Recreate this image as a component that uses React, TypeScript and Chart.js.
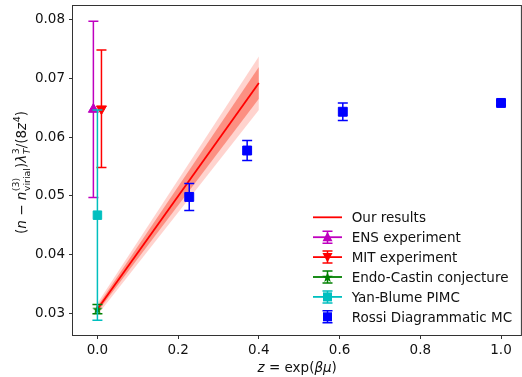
import React, { useEffect, useRef } from 'react';
import { Chart, registerables } from 'chart.js';
Chart.register(...registerables);

// ---------- data ----------
const X_TICKS = [0, 0.2, 0.4, 0.6, 0.8, 1.0];
const Y_TICKS = [0.03, 0.04, 0.05, 0.06, 0.07, 0.08];

const LEGEND_LABELS = [
  'Our results',
  'ENS experiment',
  'MIT experiment',
  'Endo-Castin conjecture',
  'Yan-Blume PIMC',
  'Rossi Diagrammatic MC',
];

// Our results (line + 1σ / 2σ bands)
const LINE_Z = [0, 0.4];
const LINE_Y = [0.0307, 0.0692];
const BAND1_LO = [0.0302, 0.0665];
const BAND1_HI = [0.0312, 0.0719];
const BAND2_LO = [0.0297, 0.0646];
const BAND2_HI = [0.0317, 0.0737];

const ENS_Z = [-0.01];
const ENS_Y = [0.0647];
const ENS_ERR = [0.015];

const MIT_Z = [0.01];
const MIT_Y = [0.0648];
const MIT_ERR = [0.01];

const EC_Z = [0];
const EC_Y = [0.0307];
const EC_ERR = [0.0008];

const YB_Z = [0];
const YB_Y = [0.0467];
const YB_ERR = [0.0179];

const ROSSI_Z = [0.2275, 0.371, 0.608, 1.0];
const ROSSI_Y = [0.0498, 0.0577, 0.0643, 0.0658];
const ROSSI_ERR = [0.0023, 0.0017, 0.0015, 0.0004];

// ---------- helpers ----------
const FAMILY = '"DejaVu Sans", sans-serif';
const FS = 13.5;

const pts = (xs: number[], ys: number[]) => xs.map((x, i) => ({ x, y: ys[i] }));

function starPath(g: CanvasRenderingContext2D, cx: number, cy: number, r: number) {
  g.beginPath();
  for (let i = 0; i < 10; i++) {
    const a = -Math.PI / 2 + (i * Math.PI) / 5;
    const rr = i % 2 === 0 ? r : r * 0.42;
    const px = cx + rr * Math.cos(a);
    const py = cy + rr * Math.sin(a);
    if (i === 0) g.moveTo(px, py);
    else g.lineTo(px, py);
  }
  g.closePath();
}

function makeStar(color: string, r: number) {
  const c = document.createElement('canvas');
  const s = Math.ceil(r * 2 + 2);
  c.width = s;
  c.height = s;
  const g = c.getContext('2d')!;
  g.fillStyle = color;
  starPath(g, s / 2, s / 2 + 0.5, r);
  g.fill();
  return c;
}

type Part = { t: string; it?: boolean; sup?: string; sub?: string; subIt?: boolean };

const fnt = (size: number, it?: boolean) => `${it ? 'italic ' : ''}${size}px ${FAMILY}`;

function partsWidth(ctx: CanvasRenderingContext2D, parts: Part[], size: number) {
  let w = 0;
  for (const p of parts) {
    ctx.font = fnt(size, p.it);
    w += ctx.measureText(p.t).width;
    if (p.sup || p.sub) {
      ctx.font = fnt(size * 0.7, false);
      const sw = p.sup ? ctx.measureText(p.sup).width : 0;
      ctx.font = fnt(size * 0.7, p.subIt);
      const bw = p.sub ? ctx.measureText(p.sub).width : 0;
      w += Math.max(sw, bw) + 0.5;
    }
  }
  return w;
}

function drawParts(ctx: CanvasRenderingContext2D, parts: Part[], size: number, x0: number, y0: number) {
  let x = x0;
  ctx.textBaseline = 'alphabetic';
  ctx.textAlign = 'left';
  for (const p of parts) {
    ctx.font = fnt(size, p.it);
    ctx.fillText(p.t, x, y0);
    x += ctx.measureText(p.t).width;
    if (p.sup || p.sub) {
      const both = !!(p.sup && p.sub);
      let sw = 0;
      let bw = 0;
      if (p.sup) {
        ctx.font = fnt(size * 0.7, false);
        ctx.fillText(p.sup, x + 0.5, y0 - size * (both ? 0.47 : 0.42));
        sw = ctx.measureText(p.sup).width;
      }
      if (p.sub) {
        ctx.font = fnt(size * 0.7, p.subIt);
        ctx.fillText(p.sub, x + 0.5, y0 + size * (both ? 0.3 : 0.22));
        bw = ctx.measureText(p.sub).width;
      }
      x += Math.max(sw, bw) + 0.5;
    }
  }
}

const Y_TITLE: Part[] = [
  { t: '(' },
  { t: 'n', it: true },
  { t: ' \u2212 ' },
  { t: 'n', it: true, sup: '(3)', sub: 'virial' },
  { t: ')' },
  { t: 'λ', it: true, sup: '3', sub: 'T', subIt: true },
  { t: '/(8' },
  { t: 'z', it: true, sup: '4' },
  { t: ')' },
];

const X_TITLE: Part[] = [
  { t: 'z', it: true },
  { t: ' = exp(' },
  { t: 'βμ', it: true },
  { t: ')' },
];

function drawMarker(ctx: CanvasRenderingContext2D, kind: string, x: number, y: number, color: string) {
  ctx.fillStyle = color;
  ctx.beginPath();
  if (kind === 'triUp') {
    ctx.moveTo(x, y - 5.5);
    ctx.lineTo(x + 5, y + 4);
    ctx.lineTo(x - 5, y + 4);
    ctx.closePath();
    ctx.fill();
  } else if (kind === 'triDown') {
    ctx.moveTo(x, y + 5.5);
    ctx.lineTo(x + 5, y - 4);
    ctx.lineTo(x - 5, y - 4);
    ctx.closePath();
    ctx.fill();
  } else if (kind === 'square') {
    ctx.fillRect(x - 4.5, y - 4.5, 9, 9);
  } else if (kind === 'star') {
    starPath(ctx, x, y + 0.5, 5.5);
    ctx.fill();
  }
}

// ---------- plugins ----------
const errorBarPlugin = {
  id: 'errbars',
  beforeDatasetDraw(chart: any, args: any) {
    const ds = chart.data.datasets[args.index];
    if (!ds.errors) return;
    const { ctx } = chart;
    const xs = chart.scales.x;
    const ys = chart.scales.y;
    ctx.save();
    ctx.strokeStyle = ds.errColor;
    ctx.lineWidth = 1.5;
    ds.data.forEach((p: any, i: number) => {
      const e = ds.errors[i];
      const x = xs.getPixelForValue(p.x);
      const yt = ys.getPixelForValue(p.y + e);
      const yb = ys.getPixelForValue(p.y - e);
      ctx.beginPath();
      ctx.moveTo(x, yt);
      ctx.lineTo(x, yb);
      ctx.moveTo(x - 5, yt);
      ctx.lineTo(x + 5, yt);
      ctx.moveTo(x - 5, yb);
      ctx.lineTo(x + 5, yb);
      ctx.stroke();
    });
    ctx.restore();
  },
};

const decorPlugin = {
  id: 'decor',
  afterDraw(chart: any) {
    const { ctx, chartArea: a } = chart;
    ctx.save();
    // frame
    ctx.strokeStyle = '#333';
    ctx.lineWidth = 1;
    ctx.strokeRect(a.left - 0.5, a.top - 0.5, a.right - a.left + 0.5, a.bottom - a.top + 1);

    ctx.fillStyle = '#111';
    // x title
    const xw = partsWidth(ctx, X_TITLE, FS);
    drawParts(ctx, X_TITLE, FS, (a.left + a.right) / 2 - xw / 2, 372);
    // y title
    const yw = partsWidth(ctx, Y_TITLE, FS);
    ctx.save();
    ctx.translate(25.5, (a.top + a.bottom) / 2 + 2);
    ctx.rotate(-Math.PI / 2);
    ctx.fillStyle = '#111';
    drawParts(ctx, Y_TITLE, FS, -yw / 2, 0);
    ctx.restore();

    // legend
    const items = chart.data.datasets.filter((d: any) => d.legendIndex !== undefined);
    items.sort((p: any, q: any) => p.legendIndex - q.legendIndex);
    items.forEach((d: any) => {
      const y = 217.3 + d.legendIndex * 19.9;
      const cx = 327.5;
      const col = d.legendColor;
      if (d.legendLine) {
        ctx.strokeStyle = col;
        ctx.lineWidth = 1.8;
        ctx.beginPath();
        ctx.moveTo(313, y);
        ctx.lineTo(342, y);
        ctx.stroke();
      }
      if (d.errors) {
        ctx.strokeStyle = d.errColor;
        ctx.lineWidth = 1.5;
        ctx.beginPath();
        ctx.moveTo(cx, y - 6);
        ctx.lineTo(cx, y + 6);
        ctx.moveTo(cx - 5, y - 6);
        ctx.lineTo(cx + 5, y - 6);
        ctx.moveTo(cx - 5, y + 6);
        ctx.lineTo(cx + 5, y + 6);
        ctx.stroke();
      }
      if (d.legendMarker) drawMarker(ctx, d.legendMarker, cx, y, col);
      ctx.fillStyle = '#111';
      ctx.font = fnt(FS);
      ctx.textAlign = 'left';
      ctx.textBaseline = 'alphabetic';
      ctx.fillText(LEGEND_LABELS[d.legendIndex], 351.7, y + 5);
    });
    ctx.restore();
  },
};

// ---------- component ----------
export default function App() {
  const ref = useRef<HTMLCanvasElement>(null);

  useEffect(() => {
    const MAG = '#bf00bf';
    const RED = '#ff0000';
    const GRN = '#008000';
    const CYN = '#00bfbf';
    const BLU = '#0000ff';
    const star = makeStar(GRN, 5.5);

    const bandDs = (data: any[], fill: any, color: string, order: number) => ({
      data,
      showLine: true,
      borderWidth: 0,
      borderColor: 'rgba(0,0,0,0)',
      backgroundColor: color,
      pointRadius: 0,
      pointHoverRadius: 0,
      fill,
      order,
    });

    const ptDs = (data: any[], color: string, style: any, radius: number, errs: number[], order: number, li: number, marker: string, rot = 0) => ({
      data,
      showLine: false,
      pointStyle: style,
      pointRadius: radius,
      pointHoverRadius: radius,
      pointRotation: rot,
      pointBackgroundColor: color,
      pointBorderColor: color,
      pointBorderWidth: 1,
      borderColor: color,
      errors: errs,
      errColor: color,
      order,
      legendIndex: li,
      legendColor: color,
      legendLine: li !== 5,
      legendMarker: marker,
    });

    const chart = new Chart(ref.current!, {
      type: 'line',
      data: {
        datasets: [
          bandDs(pts(LINE_Z, BAND2_HI), '+1', 'rgba(255,80,60,0.25)', 20),
          bandDs(pts(LINE_Z, BAND2_LO), false, 'rgba(0,0,0,0)', 19),
          bandDs(pts(LINE_Z, BAND1_HI), '+1', 'rgba(250,90,70,0.55)', 18),
          bandDs(pts(LINE_Z, BAND1_LO), false, 'rgba(0,0,0,0)', 17),
          {
            data: pts(LINE_Z, LINE_Y),
            showLine: true,
            borderColor: RED,
            borderWidth: 1.8,
            pointRadius: 0,
            pointHoverRadius: 0,
            fill: false,
            order: 16,
            legendIndex: 0,
            legendColor: RED,
            legendLine: true,
          },
          ptDs(pts(ENS_Z, ENS_Y), MAG, 'triangle', 5.8, ENS_ERR, 6, 1, 'triUp'),
          ptDs(pts(MIT_Z, MIT_Y), RED, 'triangle', 5.8, MIT_ERR, 5, 2, 'triDown', 180),
          ptDs(pts(EC_Z, EC_Y), GRN, star, 5, EC_ERR, 4, 3, 'star'),
          ptDs(pts(YB_Z, YB_Y), CYN, 'rect', 6, YB_ERR, 3, 4, 'square'),
          ptDs(pts(ROSSI_Z, ROSSI_Y), BLU, 'rect', 6.3, ROSSI_ERR, 2, 5, 'square'),
        ] as any,
      },
      options: {
        animation: false,
        responsive: false,
        devicePixelRatio: 1,
        events: [],
        layout: { autoPadding: false, padding: { top: 6, right: 0.6, left: 0, bottom: 0 } },
        plugins: {
          legend: { display: false },
          tooltip: { enabled: false },
        },
        scales: {
          x: {
            type: 'linear',
            min: -0.0605,
            max: 1.0505,
            afterBuildTicks: (s: any) => {
              s.ticks = X_TICKS.map((v) => ({ value: v }));
            },
            afterFit: (s: any) => {
              s.height = 42;
              s.paddingLeft = 0;
              s.paddingRight = 0;
              s.paddingTop = 0;
              s.paddingBottom = 0;
            },
            ticks: {
              callback: (v: any) => Number(v).toFixed(1),
              font: { family: FAMILY, size: FS },
              color: '#111',
              padding: 3,
              maxRotation: 0,
              autoSkip: false,
            },
            grid: { drawOnChartArea: false, tickLength: 4, tickColor: '#333', tickWidth: 1 },
            border: { display: false },
          },
          y: {
            type: 'linear',
            min: 0.0263,
            max: 0.0823,
            afterBuildTicks: (s: any) => {
              s.ticks = Y_TICKS.map((v) => ({ value: v }));
            },
            afterFit: (s: any) => {
              s.width = 73;
              s.paddingLeft = 0;
              s.paddingRight = 0;
              s.paddingTop = 0;
              s.paddingBottom = 0;
            },
            ticks: {
              callback: (v: any) => Number(v).toFixed(2),
              font: { family: FAMILY, size: FS },
              color: '#111',
              padding: 4,
              autoSkip: false,
            },
            grid: { drawOnChartArea: false, tickLength: 4, tickColor: '#333', tickWidth: 1 },
            border: { display: false },
          },
        },
      } as any,
      plugins: [errorBarPlugin, decorPlugin],
    });
    return () => chart.destroy();
  }, []);

  return (
    <div style={{ position: 'fixed', left: 0, top: 0, width: 522, height: 377, background: '#fff' }}>
      <canvas ref={ref} width={522} height={377} style={{ display: 'block' }} />
    </div>
  );
}
